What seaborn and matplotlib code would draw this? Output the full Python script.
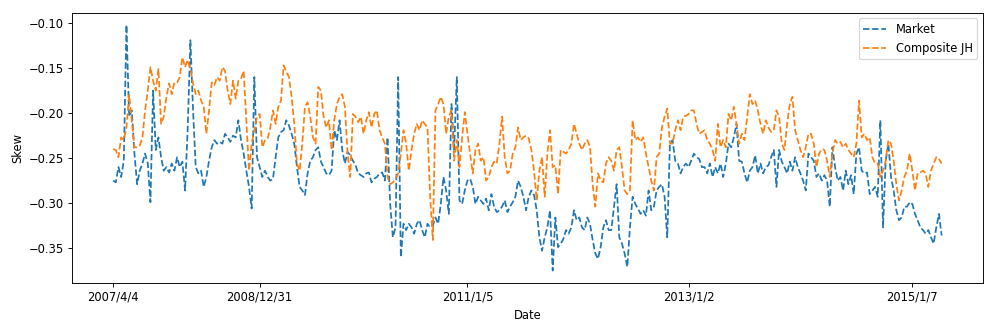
import numpy as np
import matplotlib
matplotlib.use("Agg")
import matplotlib.pyplot as plt
import seaborn as sns
import pandas as pd

# weekly skew readings (one value per observation, in order)
market = [
    -0.275, -0.277, -0.260, -0.271, -0.253, -0.102, -0.204, -0.197, -0.245, -0.279,
    -0.264, -0.256, -0.245, -0.256, -0.299, -0.175, -0.241, -0.227, -0.249, -0.264,
    -0.260, -0.266, -0.256, -0.264, -0.249, -0.260, -0.254, -0.286, -0.216, -0.119,
    -0.197, -0.260, -0.267, -0.264, -0.282, -0.271, -0.253, -0.238, -0.230,
    -0.234, -0.232, -0.234, -0.223, -0.227, -0.232, -0.225, -0.227, -0.208, -0.230,
    -0.245, -0.264, -0.282, -0.306, -0.160, -0.249, -0.260, -0.271, -0.264, -0.271,
    -0.275, -0.273, -0.249, -0.227, -0.221, -0.219, -0.208, -0.214, -0.223, -0.234,
    -0.260, -0.282, -0.286, -0.291, -0.267, -0.253, -0.249, -0.241, -0.238,
    -0.254, -0.260, -0.267, -0.269, -0.264, -0.219, -0.230, -0.208, -0.241, -0.256,
    -0.243, -0.247, -0.253, -0.258, -0.267, -0.269, -0.271, -0.267, -0.266, -0.277,
    -0.273, -0.271, -0.267, -0.266, -0.275, -0.227, -0.301, -0.338, -0.327, -0.160,
    -0.360, -0.323, -0.330, -0.323, -0.327, -0.334, -0.323, -0.319, -0.330,
    -0.338, -0.323, -0.327, -0.325, -0.316, -0.323, -0.301, -0.271, -0.286, -0.312,
    -0.190, -0.241, -0.160, -0.297, -0.301, -0.286, -0.275, -0.273, -0.282, -0.301,
    -0.293, -0.297, -0.301, -0.295, -0.308, -0.290, -0.304, -0.310, -0.308, -0.304,
    -0.297, -0.310, -0.304, -0.299, -0.293, -0.275, -0.282, -0.293, -0.308, -0.293,
    -0.286, -0.291, -0.308, -0.338, -0.353, -0.338, -0.327, -0.308, -0.375, -0.316,
    -0.349, -0.345, -0.340, -0.330, -0.334, -0.327, -0.308, -0.319, -0.316, -0.327,
    -0.330, -0.316, -0.323, -0.341, -0.356, -0.362, -0.349, -0.327, -0.319, -0.330,
    -0.330, -0.304, -0.279, -0.338, -0.345, -0.356, -0.371, -0.327, -0.293,
    -0.301, -0.306, -0.312, -0.308, -0.314, -0.286, -0.308, -0.304, -0.286, -0.282,
    -0.279, -0.293, -0.338, -0.234, -0.230, -0.253, -0.256, -0.267, -0.260, -0.256,
    -0.260, -0.253, -0.245, -0.249, -0.251, -0.260, -0.260, -0.267, -0.256, -0.271,
    -0.260, -0.267, -0.256, -0.271, -0.256, -0.234, -0.238, -0.227, -0.212,
    -0.253, -0.254, -0.267, -0.277, -0.264, -0.260, -0.247, -0.267, -0.256, -0.267,
    -0.260, -0.258, -0.249, -0.241, -0.282, -0.241, -0.254, -0.260, -0.267, -0.254,
    -0.264, -0.249, -0.260, -0.267, -0.275, -0.286, -0.245, -0.249, -0.253, -0.271,
    -0.267, -0.275, -0.269, -0.275, -0.304, -0.238, -0.260, -0.275, -0.271, -0.286,
    -0.264, -0.279, -0.269, -0.290, -0.245, -0.238, -0.264, -0.267, -0.266, -0.290,
    -0.286, -0.282, -0.293, -0.208, -0.327, -0.253, -0.234, -0.271, -0.286, -0.308,
    -0.319, -0.316, -0.304, -0.304, -0.299, -0.301, -0.312, -0.319, -0.327, -0.330,
    -0.334, -0.330, -0.338, -0.345, -0.327, -0.312, -0.336,
]

composite_jh = [
    -0.240, -0.241, -0.249, -0.227, -0.230, -0.216, -0.180, -0.208, -0.238, -0.238,
    -0.236, -0.227, -0.197, -0.175, -0.149, -0.164, -0.175, -0.151, -0.212, -0.204,
    -0.182, -0.167, -0.179, -0.166, -0.166, -0.160, -0.138, -0.149, -0.141, -0.151,
    -0.167, -0.179, -0.175, -0.186, -0.193, -0.223, -0.197, -0.166, -0.169,
    -0.160, -0.164, -0.149, -0.153, -0.175, -0.190, -0.164, -0.184, -0.164, -0.162,
    -0.153, -0.208, -0.264, -0.234, -0.219, -0.204, -0.201, -0.238, -0.230, -0.228,
    -0.216, -0.197, -0.212, -0.193, -0.186, -0.147, -0.154, -0.160, -0.182, -0.212,
    -0.256, -0.264, -0.234, -0.193, -0.188, -0.204, -0.227, -0.234, -0.171,
    -0.175, -0.204, -0.216, -0.208, -0.241, -0.208, -0.190, -0.182, -0.179, -0.193,
    -0.245, -0.271, -0.201, -0.204, -0.210, -0.204, -0.223, -0.208, -0.199, -0.216,
    -0.201, -0.197, -0.219, -0.227, -0.234, -0.271, -0.279, -0.277, -0.273, -0.267,
    -0.245, -0.219, -0.234, -0.264, -0.241, -0.223, -0.212, -0.219, -0.208,
    -0.212, -0.216, -0.293, -0.341, -0.197, -0.190, -0.182, -0.190, -0.223, -0.204,
    -0.197, -0.253, -0.230, -0.260, -0.227, -0.199, -0.223, -0.245, -0.267, -0.241,
    -0.234, -0.253, -0.249, -0.275, -0.271, -0.260, -0.254, -0.256, -0.234, -0.204,
    -0.249, -0.267, -0.264, -0.245, -0.238, -0.216, -0.230, -0.227, -0.225, -0.228,
    -0.241, -0.264, -0.297, -0.264, -0.249, -0.293, -0.245, -0.219, -0.260, -0.258,
    -0.290, -0.241, -0.243, -0.245, -0.241, -0.234, -0.212, -0.223, -0.234, -0.241,
    -0.234, -0.230, -0.238, -0.279, -0.304, -0.267, -0.275, -0.277, -0.256, -0.249,
    -0.253, -0.264, -0.241, -0.238, -0.260, -0.286, -0.290, -0.286, -0.208,
    -0.230, -0.227, -0.232, -0.227, -0.245, -0.260, -0.275, -0.286, -0.249, -0.245,
    -0.216, -0.204, -0.195, -0.234, -0.234, -0.219, -0.208, -0.219, -0.204, -0.203,
    -0.201, -0.197, -0.197, -0.212, -0.223, -0.221, -0.219, -0.230, -0.234, -0.241,
    -0.253, -0.212, -0.238, -0.230, -0.238, -0.201, -0.208, -0.193, -0.212,
    -0.234, -0.223, -0.230, -0.204, -0.179, -0.190, -0.186, -0.197, -0.212, -0.223,
    -0.208, -0.216, -0.221, -0.219, -0.197, -0.204, -0.234, -0.241, -0.212, -0.190,
    -0.182, -0.219, -0.230, -0.241, -0.249, -0.238, -0.223, -0.223, -0.234, -0.260,
    -0.245, -0.240, -0.241, -0.253, -0.271, -0.245, -0.230, -0.234, -0.232, -0.238,
    -0.234, -0.241, -0.245, -0.249, -0.234, -0.186, -0.227, -0.223, -0.230, -0.227,
    -0.249, -0.256, -0.256, -0.271, -0.264, -0.253, -0.230, -0.234, -0.253, -0.279,
    -0.297, -0.286, -0.271, -0.264, -0.245, -0.264, -0.286, -0.267, -0.266, -0.264,
    -0.267, -0.282, -0.264, -0.256, -0.249, -0.251, -0.256,
]

tick_labels = ["2007/4/4", "2008/12/31", "2011/1/5", "2013/1/2", "2015/1/7"]
tick_pos = [0, 55, 133, 216, 300]

assert len(market) == len(composite_jh), (len(market), len(composite_jh))

df = pd.DataFrame({"obs": np.arange(len(market)),
                   "Market": market,
                   "Composite JH": composite_jh})

fig, ax = plt.subplots(figsize=(12, 4), dpi=83)

sns.lineplot(data=df, x="obs", y="Market", ax=ax, color="tab:blue",
             linestyle="--", label="Market")
sns.lineplot(data=df, x="obs", y="Composite JH", ax=ax, color="tab:orange",
             linestyle="--", label="Composite JH")

ax.set_xticks(tick_pos)
ax.set_xticklabels(tick_labels)
ax.set_xlabel("Date")
ax.set_ylabel("Skew")
ax.legend(loc="upper right")

fig.subplots_adjust(left=0.072, right=0.987, top=0.962, bottom=0.148)
plt.savefig("out.png", dpi=83)
